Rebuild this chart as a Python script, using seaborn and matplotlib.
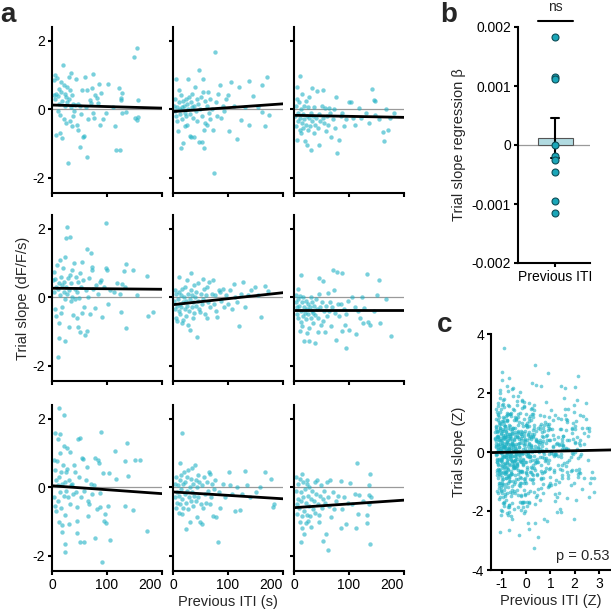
import numpy as np
import pandas as pd
from matplotlib import pyplot as plt
import seaborn as sns

# panel a: one list per session, (previous ITI in s, trial slope in dF/F/s)
r1c1 = [(3,0.42),(4,0.85),(5,0.3),(6,1.0),(7,0.45),(8,-0.75),(9,0.92),(10,0.38),(11,-0.05),(12,0.6),
        (13,0.15),(14,-0.7),(15,-0.17),(16,0.8),(17,0.5),(18,-0.85),(19,0.25),(20,1.28),(21,0.7),(22,-0.3),
        (23,0.45),(24,0.1),(25,0.35),(26,-0.4),(27,0.65),(28,0.2),(29,-1.57),(30,0.95),(31,0.3),(32,-0.35),
        (33,0.55),(34,0.05),(35,1.07),(36,-0.5),(37,0.4),(38,-0.2),(39,0.15),(40,-0.05),(42,0.12),(44,0.88),
        (45,-0.46),(47,0.15),(48,-0.6),(50,0.1),(51,-1.12),(53,-0.15),(55,0.55),(57,-0.8),(58,-0.78),(60,0.95),
        (62,0.05),(63,-1.4),(64,0.56),(66,-0.3),(69,0.27),(70,0.19),(72,0.61),(74,1.03),(75,-0.12),(76,-0.26),
        (78,0.4),(81,0.34),(84,0.19),(86,0.74),(87,-0.46),(89,0.47),(92,-0.3),(99,-0.12),(102,0.73),(110,0.05),
        (114,-0.48),(116,-1.18),(122,0.63),(123,-1.18),(125,0.34),(126,0.27),(127,0.47),(128,-0.12),(134,-0.09),(149,1.53),
        (151,-0.26),(154,1.78),(155,-0.31),(156,-0.23),(157,0.27)]
r1c2 = [(2,0.1),(3,-0.05),(4,0.3),(5,-0.2),(6,0.88),(7,0.05),(8,-0.35),(9,-0.65),(10,0.2),(11,0.55),
        (12,0.0),(13,-0.15),(14,-1.14),(15,0.4),(16,0.05),(17,-0.3),(18,-0.99),(19,0.25),(20,0.1),(21,-0.5),
        (22,-0.1),(23,0.3),(24,-0.2),(25,0.15),(26,-0.45),(27,0.88),(28,0.0),(29,0.35),(30,-0.78),(31,-0.15),
        (32,0.2),(33,-0.8),(34,0.05),(35,0.45),(36,-0.25),(38,0.1),(39,-0.8),(40,0.64),(41,-0.05),(43,0.3),
        (44,-0.35),(45,0.15),(47,-0.97),(48,1.15),(49,0.0),(50,0.35),(52,-0.2),(53,-0.97),(54,0.5),(55,0.88),
        (56,-0.6),(57,-1.14),(58,0.25),(59,-0.4),(61,-0.46),(62,0.1),(64,0.49),(65,-0.1),(67,0.3),(68,-0.3),
        (70,0.0),(72,-0.6),(74,-1.86),(76,1.68),(78,0.2),(80,-0.2),(82,0.45),(85,0.71),(88,-0.26),(90,0.1),
        (93,-0.05),(96,0.3),(100,0.42),(102,-0.65),(106,0.8),(110,0.1),(117,-0.87),(120,0.66),(123,-0.33),(130,0.05),
        (138,0.82),(138,-0.46),(145,0.37),(155,0.05),(161,0.71),(161,-0.09),(168,-0.5),(171,0.95),(175,-0.17)]
r1c3 = [(2,-0.2),(3,0.1),(4,-0.5),(5,0.3),(6,0.66),(6,-0.89),(7,-0.1),(8,-0.35),(9,0.2),(10,0.97),
        (10,-0.6),(11,-0.25),(12,-0.7),(13,0.0),(14,0.45),(15,-0.4),(16,-0.15),(17,-0.55),(18,0.1),(19,-0.3),
        (20,-0.94),(21,0.25),(22,-0.45),(23,-0.2),(24,-1.04),(25,0.05),(26,-0.6),(27,-0.25),(28,0.35),(29,-0.5),
        (30,-1.18),(31,-0.1),(32,-0.35),(33,0.61),(34,-0.2),(36,-0.7),(37,0.05),(38,-0.45),(40,-0.25),(42,0.54),
        (43,-0.55),(45,-1.04),(46,-0.15),(48,-0.35),(50,0.1),(52,-0.25),(53,0.56),(55,-0.4),(56,0.02),(58,-0.65),
        (60,-0.2),(62,-0.45),(64,0.03),(66,-0.1),(68,-0.8),(70,-0.3),(72,0.0),(74,-0.55),(76,0.35),(79,-1.28),
        (82,-0.89),(85,-0.2),(88,-0.1),(91,-0.5),(95,-0.3),(100,0.22),(104,0.2),(108,-0.25),(111,-0.46),(118,0.03),
        (122,-0.25),(130,-0.1),(136,-0.41),(141,0.58),(145,0.27),(147,0.25),(148,-0.17),(155,-0.3),(161,-0.68),(164,-0.94),
        (167,0.0),(170,-0.6),(175,-0.25),(182,-0.1)]
r2c1 = [(2,0.5),(3,0.15),(4,0.74),(5,-0.35),(6,0.54),(7,0.3),(8,-0.55),(9,0.95),(10,-1.76),(11,0.25),
        (12,-1.2),(12,-0.75),(13,0.4),(14,0.05),(15,1.08),(16,-0.45),(17,0.6),(18,0.35),(19,-0.3),(20,0.85),
        (21,0.15),(22,0.45),(23,-0.05),(24,1.17),(24,-1.29),(25,1.73),(26,0.3),(27,2.05),(28,0.1),(29,0.55),
        (30,-0.87),(31,0.2),(32,1.76),(33,0.65),(34,-0.1),(35,0.4),(36,0.0),(37,0.8),(38,-0.52),(40,1.0),
        (41,0.25),(42,-0.05),(44,0.6),(45,-0.6),(46,0.15),(47,0.45),(48,-0.87),(49,-0.02),(50,0.7),(51,-1.01),
        (52,0.3),(54,1.03),(55,-0.45),(57,0.5),(58,-0.3),(60,-1.1),(61,0.2),(63,1.42),(64,-1.0),(65,0.0),
        (67,0.55),(69,-0.48),(70,1.3),(72,0.88),(73,0.8),(75,0.25),(78,-0.33),(80,0.35),(84,0.1),(88,0.45),
        (89,0.5),(90,-0.57),(94,0.3),(98,2.17),(99,0.85),(100,0.8),(101,-0.21),(105,0.2),(112,0.15),(118,0.4),
        (123,0.1),(125,-0.43),(127,0.37),(131,0.76),(132,0.3),(134,0.96),(134,-0.91),(148,0.79),(154,0.06),(173,0.61),
        (175,-0.55),(184,-0.43)]
r2c2 = [(2,-0.1),(3,0.2),(4,-0.35),(5,-0.6),(6,0.1),(7,-0.25),(8,-0.7),(9,-0.05),(10,0.59),(10,-0.4),
        (11,0.15),(12,-0.2),(13,-0.5),(14,0.05),(15,-0.3),(16,-0.75),(17,0.25),(18,-0.15),(19,-0.67),(20,0.0),
        (21,-0.35),(22,0.3),(23,-0.1),(24,-0.55),(25,0.5),(26,-0.25),(27,-0.8),(28,0.1),(29,-0.4),(30,-0.05),
        (31,-0.96),(32,0.2),(33,0.72),(34,-0.3),(35,0.05),(36,-0.6),(37,-0.15),(38,0.35),(39,-0.45),(40,0.0),
        (41,-0.25),(42,0.15),(44,-1.17),(45,-0.1),(46,0.4),(47,-0.35),(49,-0.43),(50,0.1),(52,-0.2),(54,0.54),
        (55,-0.05),(57,0.25),(58,-0.5),(60,0.05),(61,-0.62),(62,0.3),(64,-0.15),(66,0.45),(68,-0.3),(70,0.1),
        (72,0.5),(74,-0.2),(76,0.05),(78,-0.4),(80,-0.57),(83,0.2),(86,0.16),(88,-0.1),(90,0.25),(93,-0.3),
        (96,0.05),(100,-0.2),(104,0.2),(108,-0.35),(110,0.37),(113,0.0),(116,-0.15),(120,-0.83),(124,0.1),(128,0.45),
        (131,-0.28),(136,0.05),(142,0.2),(149,0.3),(155,0.05),(160,-0.58),(167,0.32),(173,0.17)]
r2c3 = [(3,-0.15),(4,0.05),(5,-0.3),(6,-0.5),(7,-0.05),(8,0.25),(8,-0.6),(9,-0.25),(10,-0.99),(11,0.02),
        (12,0.66),(12,-0.72),(13,-0.4),(14,-0.15),(15,-0.84),(16,-0.55),(17,0.0),(18,-0.3),(19,-1.28),(20,-0.45),
        (21,-0.1),(22,-0.65),(23,-0.35),(24,-1.06),(25,-0.2),(26,-0.5),(27,-0.9),(28,-1.27),(29,-0.3),(30,0.0),
        (31,-0.6),(32,-0.4),(33,-0.15),(34,-0.75),(35,-0.45),(36,-0.25),(38,-1.33),(39,-0.52),(40,-0.05),(41,-0.35),
        (43,-1.01),(44,-0.6),(45,0.56),(45,0.08),(47,-0.3),(49,-0.8),(50,-0.15),(52,-0.7),(53,0.47),(54,-0.4),
        (56,-1.01),(58,-0.25),(60,-0.55),(61,0.11),(63,-0.4),(65,-0.15),(67,-0.83),(69,-0.3),(71,0.78),(73,0.2),
        (75,-0.45),(76,-1.25),(79,0.74),(80,-0.2),(82,-0.55),(85,-0.21),(87,0.72),(87,-0.99),(90,-0.35),(92,-0.82),
        (94,-0.48),(94,-1.5),(98,-0.1),(100,-0.96),(105,0.0),(110,-0.3),(113,-1.08),(116,-0.41),(120,-0.6),(124,0.0),
        (126,-0.77),(127,-0.33),(133,0.69),(135,-0.72),(138,-0.82),(145,-0.4),(150,0.06),(155,0.5),(156,-0.75),(167,-0.06),
        (176,-1.13)]
r3c1 = [(3,0.8),(4,-0.3),(5,0.5),(6,1.57),(6,-0.54),(7,0.2),(8,-0.7),(9,0.77),(10,0.05),(11,1.4),
        (11,-0.4),(12,2.32),(12,-1.03),(13,0.3),(14,1.54),(15,1.0),(15,-0.15),(16,0.45),(17,-0.6),(18,-1.1),
        (18,-1.32),(19,0.1),(20,0.65),(21,2.12),(21,-0.25),(22,1.2),(23,0.15),(24,-0.82),(24,-1.66),(24,-1.9),
        (25,0.45),(26,-0.1),(27,0.52),(28,1.15),(29,-0.3),(30,-1.07),(31,0.2),(33,1.03),(33,-0.5),(35,0.05),
        (36,0.1),(38,-0.2),(40,0.65),(42,0.43),(44,-0.15),(45,-0.98),(46,-0.59),(46,-1.34),(47,1.42),(49,0.3),
        (51,1.45),(51,-1.59),(53,-0.3),(55,0.85),(56,0.82),(58,-0.1),(59,-1.61),(62,0.2),(64,0.6),(66,-0.4),
        (66,-0.85),(68,-0.5),(70,0.1),(73,-0.2),(76,0.05),(78,0.86),(78,-1.5),(81,-0.64),(84,0.79),(86,0.7),
        (87,-0.59),(88,-0.16),(89,1.6),(90,-2.19),(93,0.4),(95,-0.98),(96,-0.79),(98,-1.05),(102,-0.56),(103,0.42),
        (105,-1.53),(114,1.06),(117,0.23),(133,0.77),(133,-0.56),(137,1.3),(139,0.33),(148,-0.66),(150,0.79),(160,0.79),
        (172,-1.27)]
r3c2 = [(3,-0.3),(4,0.1),(5,-0.6),(6,0.3),(7,-0.15),(8,-0.45),(9,0.05),(10,-0.75),(11,-0.25),(12,0.2),
        (13,0.72),(13,-0.5),(14,-0.05),(15,0.35),(16,1.59),(16,-0.79),(17,-0.35),(18,0.1),(19,-0.6),(20,0.45),
        (21,-0.2),(22,0.15),(23,-0.45),(24,-1.22),(25,0.3),(26,-0.1),(27,-0.65),(28,0.5),(29,-0.3),(30,0.0),
        (31,-1.01),(32,0.25),(33,-0.4),(34,-0.15),(35,0.55),(36,-0.55),(37,0.1),(38,-0.25),(40,0.64),(41,-0.4),
        (42,0.2),(43,-0.88),(44,0.0),(45,0.35),(46,-0.3),(47,0.15),(49,-1.01),(50,-0.5),(52,-1.08),(53,0.05),
        (55,-0.6),(57,0.3),(58,-0.2),(60,-0.45),(62,0.15),(64,-0.1),(66,0.45),(67,0.38),(67,-0.5),(69,-0.3),
        (71,0.1),(73,-0.83),(75,-0.05),(77,0.2),(79,-0.88),(81,-1.59),(83,-0.15),(86,-0.6),(90,0.1),(95,-0.3),
        (101,0.43),(104,0.05),(108,-0.2),(113,-0.69),(117,0.0),(121,-0.66),(125,-0.2),(131,0.46),(135,0.05),(140,-0.3),
        (150,-0.15),(158,0.0),(167,0.45),(178,0.25),(181,-0.59),(183,-0.5)]
r3c3 = [(3,-0.11),(4,0.3),(5,-0.5),(6,-0.79),(7,0.1),(8,-0.35),(9,-0.6),(10,-1.03),(11,0.25),(12,-0.4),
        (12,-1.61),(13,-0.15),(14,-0.85),(15,0.38),(15,-1.2),(16,-0.3),(17,0.15),(18,-1.37),(19,-0.7),(20,-0.05),
        (21,-1.05),(22,-0.45),(23,0.1),(24,0.21),(24,-0.8),(25,-0.25),(26,-1.0),(27,-0.55),(28,0.0),(29,-0.85),
        (30,-0.35),(31,-1.15),(32,-0.1),(34,-0.65),(36,-0.4),(38,0.15),(39,-0.75),(40,-0.2),(42,0.21),(43,-0.5),
        (45,-0.82),(45,-1.03),(47,-0.25),(49,0.05),(50,-0.6),(52,-0.35),(52,-1.56),(54,-0.1),(56,-0.45),(58,-1.37),
        (60,0.15),(61,-0.3),(61,-1.85),(63,-0.55),(65,0.21),(67,-0.88),(70,-0.15),(73,-0.65),(76,-0.4),(80,-0.25),
        (85,-1.2),(86,0.18),(88,-0.64),(90,-0.3),(95,-1.08),(98,-0.45),(102,0.11),(106,-0.5),(110,-0.2),(113,-1.2),
        (115,0.72),(117,-0.79),(118,-0.23),(125,-0.4),(132,-1.06),(132,-0.82),(136,0.06),(136,-0.23),(136,-0.5),(138,0.38),
        (138,-1.67),(140,-0.3)]
sessions = [r1c1, r1c2, r1c3, r2c1, r2c2, r2c3, r3c1, r3c2, r3c3]

# fitted line of each session, value at ITI = 0 s and at ITI = 200 s
fit_iti = [0, 200]
fit_start = [0.12, -0.07, -0.18, 0.26, -0.22, -0.39, 0.04, -0.14, -0.60]
fit_end = [0.03, 0.155, -0.24, 0.23, 0.13, -0.39, -0.19, -0.34, -0.38]
iti_ticks = [0, 100, 200]
iti_ticklabels = ['0', '100', '200']

# panel b: regression beta of each session
betas = [0.00183, 0.00116, 0.00112, 0.0, -0.00018, -0.00025, -0.00046, -0.00095, -0.00116]
beta_ticks = [-0.002, -0.001, 0, 0.001, 0.002]
beta_ticklabels = ['-0.002', '-0.001', '0', '0.001', '0.002']

# panel c: pooled fit and p value
c_fit_x = [-1.45, 3.5]
c_fit_y = [-0.02, 0.07]
c_pval = 0.53

DOT = '#20b2c5'
PX = 611.0

sns.set_style('ticks')
plt.rcParams['font.family'] = ['Liberation Sans', 'DejaVu Sans']
plt.rcParams['axes.unicode_minus'] = False
plt.rcParams['font.size'] = 10
plt.rcParams['axes.labelsize'] = 10.5
plt.rcParams['axes.linewidth'] = 1.5
plt.rcParams['axes.edgecolor'] = 'black'
for k in ['xtick', 'ytick']:
    plt.rcParams[k + '.major.width'] = 1.5
    plt.rcParams[k + '.major.size'] = 3
    plt.rcParams[k + '.major.pad'] = 2
    plt.rcParams[k + '.color'] = 'black'
    plt.rcParams[k + '.labelsize'] = 10


def box(left, top, right, bottom):
    # pixel box -> figure fraction
    return [left / PX, 1 - bottom / PX, (right - left) / PX, (bottom - top) / PX]


fig = plt.figure(figsize=(6.11, 6.11), dpi=100)

# ---- panel a ----
col_left = [52, 173, 294]
row_top = [27, 215, 405]
for i, s in enumerate(sessions):
    r, c = divmod(i, 3)
    ax = fig.add_axes(box(col_left[c], row_top[r], col_left[c] + 110, row_top[r] + 166))
    df = pd.DataFrame(s, columns=['iti', 'slope'])
    ax.axhline(0, color='#9a9a9a', lw=0.9, zorder=1)
    sns.scatterplot(data=df, x='iti', y='slope', ax=ax, s=10, color=DOT, alpha=0.6,
                    linewidth=0, zorder=2)
    sns.lineplot(x=fit_iti, y=[fit_start[i], fit_end[i]], ax=ax, color='black', lw=2, zorder=3)
    ax.set_xlim(0, 200)
    ax.set_ylim(-2.45, 2.4)
    ax.set_xticks(iti_ticks)
    ax.set_yticks([-2, 0, 2])
    sns.despine(ax=ax)
    ax.set_xlabel('')
    ax.set_ylabel('')
    if r < 2:
        ax.set_xticklabels([])
    else:
        ax.set_xticklabels(iti_ticklabels)
        # last label sits left of its tick, as in the paper figure
        ax.get_xticklabels()[-1].set_horizontalalignment('right')
        ax.get_xticklabels()[-1].set_x(203)
    if c > 0:
        ax.set_yticklabels([])
    if r == 1 and c == 0:
        ax.set_ylabel('Trial slope (dF/F/s)', labelpad=2)
    if r == 2 and c == 1:
        ax.set_xlabel('Previous ITI (s)', labelpad=2)

# ---- panel b ----
axb = fig.add_axes(box(518, 27, 590, 263))
axb.axhline(0, color='#9a9a9a', lw=0.9, zorder=0)
sns.barplot(y=betas, ax=axb, errorbar='se', width=0.5, color='#a9e0e8',
            edgecolor='#555555', linewidth=0.8, capsize=0.12,
            err_kws={'color': 'black', 'linewidth': 1.5})
sns.stripplot(y=betas, ax=axb, jitter=False, color='#1aa6b8', edgecolor='#0d4d57',
              linewidth=0.8, size=5, zorder=4)
axb.set_xlim(-0.53, 0.5)
axb.set_ylim(-0.002, 0.002)
axb.set_yticks(beta_ticks)
axb.set_yticklabels(beta_ticklabels)
axb.set_xticks([0])
axb.set_xticklabels(['Previous ITI'])
axb.set_ylabel('Trial slope regression β', labelpad=4)
sns.despine(ax=axb)
# ns bracket over the bar
axb.plot([-0.25, 0.25], [0.0021, 0.0021], color='black', lw=1.5, clip_on=False)
axb.text(0, 0.00222, 'ns', ha='center', va='bottom', fontsize=10)

# ---- panel c ----
# pooled trials: each session z-scored on both axes
zs = []
for s in sessions:
    df = pd.DataFrame(s, columns=['iti', 'slope'])
    zs.append((df - df.mean()) / df.std())
pooled = pd.concat(zs, ignore_index=True)

axc = fig.add_axes(box(491, 334, 611, 570))
sns.scatterplot(data=pooled, x='iti', y='slope', ax=axc, s=7, color=DOT, alpha=0.6,
                linewidth=0, zorder=2)
sns.lineplot(x=c_fit_x, y=c_fit_y, ax=axc, color='black', lw=2, zorder=3)
axc.set_xlim(-1.45, 3.5)
axc.set_ylim(-4, 4)
axc.set_xticks([-1, 0, 1, 2, 3])
axc.set_yticks([-4, -2, 0, 2, 4])
axc.set_xlabel('Previous ITI (Z)', labelpad=2)
axc.set_ylabel('Trial slope (Z)', labelpad=4)
axc.text(0.99, 0.03, 'p = %.2f' % c_pval, transform=axc.transAxes, ha='right', va='bottom',
         fontsize=10.5)
sns.despine(ax=axc)

# panel letters
fig.text(0 / PX, 1 - 22 / PX, 'a', fontsize=20, fontweight='bold', va='baseline')
fig.text(440 / PX, 1 - 22 / PX, 'b', fontsize=20, fontweight='bold', va='baseline')
fig.text(437 / PX, 1 - 332 / PX, 'c', fontsize=20, fontweight='bold', va='baseline')

fig.savefig('out.png', dpi=100)
